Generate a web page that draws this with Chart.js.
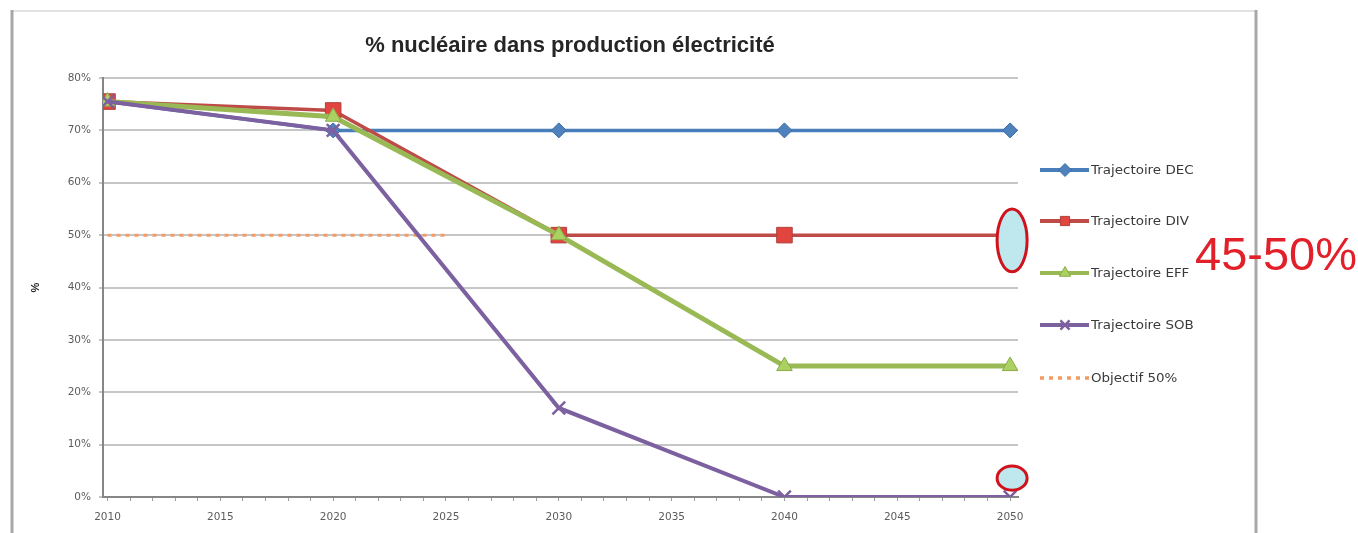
<!DOCTYPE html>
<html>
<head>
<meta charset="utf-8">
<script src="https://cdn.jsdelivr.net/npm/chart.js@4/dist/chart.umd.min.js"></script>
<style>
  html, body { margin: 0; padding: 0; background: #fff; overflow: hidden; }
  canvas { display: block; }
</style>
</head>
<body>
<canvas id="c" width="1358" height="533"></canvas>
<script>
// Part du nucléaire dans la production d'électricité, par trajectoire
const years = [2010, 2020, 2030, 2040, 2050];
const trajDEC = [75.5, 70, 70, 70, 70];
const trajDIV = [75.5, 73.8, 50, 50, 50];
const trajEFF = [75.5, 72.6, 50, 25, 25];
const trajSOB = [75.5, 70, 17, 0, 0];
const objectifYears = [2010, 2025];
const objectifValues = [50, 50];

const seriesNames = ['Trajectoire DEC', 'Trajectoire DIV', 'Trajectoire EFF', 'Trajectoire SOB', 'Objectif 50%'];
const xTickYears = [2010, 2015, 2020, 2025, 2030, 2035, 2040, 2045, 2050];
const yTickValues = [0, 10, 20, 30, 40, 50, 60, 70, 80];
const chartTitle = '% nucléaire dans production électricité';
const rangeLabel = '45-50%';

const FONT = "'Liberation Sans', Arial, sans-serif";
const SMALL_FONT = "'DejaVu Sans', Verdana, sans-serif";

function toPoints(xs, ys) {
  return xs.map((x, i) => ({ x: x, y: ys[i] }));
}

// Marker used in the legend samples
function drawMarker(ctx, style, x, y, r, fill, stroke, lw) {
  ctx.save();
  ctx.fillStyle = fill;
  ctx.strokeStyle = stroke;
  ctx.lineWidth = lw;
  ctx.setLineDash([]);
  ctx.beginPath();
  if (style === 'rectRot') {
    ctx.moveTo(x, y - r); ctx.lineTo(x + r, y); ctx.lineTo(x, y + r); ctx.lineTo(x - r, y); ctx.closePath();
    ctx.fill(); ctx.stroke();
  } else if (style === 'rect') {
    const s = r * Math.SQRT1_2;
    ctx.rect(x - s, y - s, 2 * s, 2 * s);
    ctx.fill(); ctx.stroke();
  } else if (style === 'triangle') {
    ctx.moveTo(x, y - r); ctx.lineTo(x + r * 0.87, y + r * 0.5); ctx.lineTo(x - r * 0.87, y + r * 0.5); ctx.closePath();
    ctx.fill(); ctx.stroke();
  } else if (style === 'crossRot') {
    const s = r * Math.SQRT1_2;
    ctx.moveTo(x - s, y - s); ctx.lineTo(x + s, y + s);
    ctx.moveTo(x + s, y - s); ctx.lineTo(x - s, y + s);
    ctx.stroke();
  }
  ctx.restore();
}

// Outer frame and title
const framePlugin = {
  id: 'frame',
  beforeDraw(chart) {
    const ctx = chart.ctx;
    ctx.save();
    ctx.fillStyle = '#ffffff';
    ctx.fillRect(0, 0, chart.width, chart.height);
    ctx.strokeStyle = '#e2e2e2';
    ctx.lineWidth = 2;
    ctx.beginPath(); ctx.moveTo(12, 11); ctx.lineTo(1256, 11); ctx.stroke();
    ctx.strokeStyle = '#a8a8a8';
    ctx.lineWidth = 3;
    ctx.beginPath(); ctx.moveTo(12, 10); ctx.lineTo(12, chart.height); ctx.stroke();
    ctx.beginPath(); ctx.moveTo(1256, 10); ctx.lineTo(1256, chart.height); ctx.stroke();
    ctx.fillStyle = '#262626';
    ctx.font = 'bold 22px ' + FONT;
    ctx.textAlign = 'center';
    ctx.textBaseline = 'middle';
    ctx.fillText(chartTitle, 570, 46);
    ctx.restore();
  }
};

// Highlight ellipses at 2050, legend and range label
const notesPlugin = {
  id: 'notes',
  afterDatasetsDraw(chart) {
    const ctx = chart.ctx;
    const xs = chart.scales.x, ys = chart.scales.y;
    const cx = xs.getPixelForValue(2050) + 2;
    const marks = [[43, 55], [1.3, 5.9]];
    ctx.save();
    marks.forEach(([lo, hi]) => {
      const yTop = ys.getPixelForValue(hi), yBot = ys.getPixelForValue(lo);
      ctx.beginPath();
      ctx.ellipse(cx, (yTop + yBot) / 2, 15, (yBot - yTop) / 2, 0, 0, Math.PI * 2);
      ctx.fillStyle = '#bfe7ee';
      ctx.fill();
      ctx.strokeStyle = '#d0121c';
      ctx.lineWidth = 3;
      ctx.stroke();
    });
    ctx.restore();
  },
  afterDraw(chart) {
    const ctx = chart.ctx;
    ctx.save();
    const rowY = [170, 221, 273, 325, 378];
    chart.data.datasets.forEach((ds, i) => {
      const y = rowY[i];
      ctx.save();
      ctx.strokeStyle = ds.borderColor;
      ctx.lineWidth = ds.borderDash ? 3.5 : 4;
      ctx.setLineDash(ds.borderDash || []);
      ctx.beginPath(); ctx.moveTo(1040, y); ctx.lineTo(1089, y); ctx.stroke();
      ctx.restore();
      if (ds.pointRadius > 0) {
        drawMarker(ctx, ds.pointStyle, 1065, y, 6.5, ds.pointBackgroundColor, ds.pointBorderColor, ds.pointBorderWidth);
      }
      ctx.save();
      ctx.translate(1091, y + 1);
      ctx.scale(1.12, 1);
      ctx.fillStyle = '#3a3a3a';
      ctx.font = '12px ' + SMALL_FONT;
      ctx.textAlign = 'left';
      ctx.textBaseline = 'middle';
      ctx.fillText(ds.label, 0, 0);
      ctx.restore();
    });
    ctx.fillStyle = '#e2202a';
    ctx.font = '47px ' + FONT;
    ctx.textAlign = 'left';
    ctx.textBaseline = 'alphabetic';
    ctx.fillText(rangeLabel, 1195, 270);
    ctx.restore();
  }
};

const lineSeries = [
  { values: trajDEC, color: '#4A7EBB', fill: '#4F81BD', edge: '#3e6ea8', style: 'rectRot', r: 7.5, w: 3.5, pw: 1, order: 3 },
  { values: trajDIV, color: '#BE4B48', fill: '#E2443F', edge: '#b0403c', style: 'rect', r: 11, w: 3.5, pw: 1, order: 2 },
  { values: trajEFF, color: '#98B954', fill: '#ABD163', edge: '#8aab48', style: 'triangle', r: 9, w: 5, pw: 1, order: 1 },
  { values: trajSOB, color: '#7D60A0', fill: '#7D60A0', edge: '#7D60A0', style: 'crossRot', r: 9, w: 4, pw: 2.5, order: 0 }
];

const datasets = lineSeries.map((s, i) => ({
  label: seriesNames[i],
  data: toPoints(years, s.values),
  borderColor: s.color,
  backgroundColor: s.fill,
  borderWidth: s.w,
  pointStyle: s.style,
  pointRadius: s.r,
  pointBackgroundColor: s.fill,
  pointBorderColor: s.edge,
  pointBorderWidth: s.pw,
  tension: 0,
  order: s.order
}));

datasets.push({
  label: seriesNames[4],
  data: toPoints(objectifYears, objectifValues),
  borderColor: '#F49A62',
  backgroundColor: '#F49A62',
  borderWidth: 3,
  borderDash: [4, 5],
  pointRadius: 0,
  order: 4
});

new Chart(document.getElementById('c'), {
  type: 'line',
  data: { datasets: datasets },
  plugins: [framePlugin, notesPlugin],
  options: {
    responsive: false,
    animation: false,
    devicePixelRatio: 1,
    layout: { padding: { left: 25, right: 340, top: 78, bottom: 0 } },
    plugins: {
      legend: { display: false },
      title: { display: false },
      tooltip: { enabled: false }
    },
    scales: {
      x: {
        type: 'linear',
        min: 2009.8,
        max: 2050.35,
        afterBuildTicks(scale) {
          const t = [];
          for (let yr = xTickYears[0]; yr <= xTickYears[xTickYears.length - 1]; yr++) t.push({ value: yr });
          scale.ticks = t;
        },
        afterFit(scale) { scale.height = 36; },
        grid: { drawOnChartArea: false, drawTicks: true, tickLength: 4, color: '#9a9a9a', lineWidth: 1 },
        border: { color: '#868686', width: 2 },
        ticks: {
          autoSkip: false,
          maxRotation: 0,
          padding: 10,
          color: '#5c5c5c',
          font: { size: 10.5, family: SMALL_FONT },
          callback: (v) => xTickYears.includes(v) ? String(v) : ''
        }
      },
      y: {
        min: yTickValues[0],
        max: yTickValues[yTickValues.length - 1],
        afterBuildTicks(scale) { scale.ticks = yTickValues.map(v => ({ value: v })); },
        afterFit(scale) { scale.width = 78; },
        grid: { color: '#c6c6c6', lineWidth: 2, tickLength: 4 },
        border: { color: '#868686', width: 2 },
        title: { display: true, text: '%', color: '#222', font: { size: 11, weight: 'bold', family: FONT } },
        ticks: {
          padding: 8,
          color: '#5c5c5c',
          font: { size: 10.5, family: SMALL_FONT },
          callback: (v) => v + '%'
        }
      }
    }
  }
});
</script>
</body>
</html>
